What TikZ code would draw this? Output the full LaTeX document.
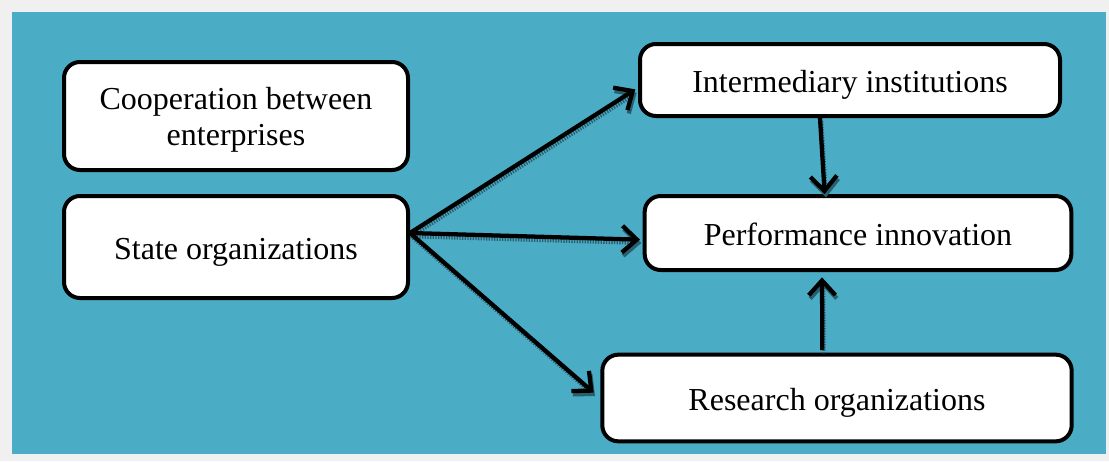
\documentclass[tikz,border=0pt]{standalone}
\usepackage{fontspec}
\setmainfont{Liberation Serif}
\usetikzlibrary{arrows.meta}
\definecolor{bgteal}{HTML}{4BACC6}
\definecolor{framegray}{HTML}{F0F0F0}
\definecolor{arrshade}{HTML}{2A5F6E}

\begin{document}
\begin{tikzpicture}[x=0.75pt, y=-0.75pt,
  box/.style={draw, fill=white, line width=3pt, rounded corners=12pt,
    align=center, font=\fontsize{24}{27}\selectfont, inner sep=0pt},
  lowtext/.style={text height=23pt, text depth=5pt},
  arr/.style={line width=3.2pt, -{Straight Barb[length=11pt, width=20pt, line width=3.2pt]},
    preaction={draw=arrshade, dash pattern=on 1pt off 1pt, line width=3pt,
      transform canvas={shift={(1pt,-2.5pt)}}}}]
  % frame and background
  \fill [framegray] (0, 0) rectangle (1109, 461);
  \fill [bgteal] (12, 12) rectangle (1106, 454);
  \useasboundingbox (0, 0) rectangle (1109, 461);

  \node [box, minimum width=258pt, minimum height=81pt] (coop) at (236, 116) {\rule{0pt}{23pt}Cooperation between\\enterprises};
  \node [box, lowtext, minimum width=258pt, minimum height=76.5pt] (state) at (236, 247) {State organizations};
  \node [box, lowtext, minimum width=315pt, minimum height=54pt] (inter) at (850, 80) {Intermediary institutions};
  \node [box, lowtext, minimum width=320pt, minimum height=55.5pt] (perf) at (858, 233) {Performance innovation};
  \node [box, lowtext, minimum width=352pt, minimum height=65pt] (res) at (837, 398) {Research organizations};

  \coordinate (src) at ([yshift=10.5pt]state.east);
  \draw [arr] (src) -- ([xshift=-2pt, yshift=-7pt]inter.west);
  \draw [arr] (src) -- ([xshift=-2pt, yshift=-5pt]perf.west);
  \draw [arr] (src) -- ([xshift=-5pt, yshift=4pt]res.west);
  \draw [arr] ([xshift=-22.5pt]inter.south) -- ([xshift=-25pt]perf.north);
  \draw [arr] ([xshift=-11pt, yshift=2pt]res.north) -- ([xshift=-27pt, yshift=-4pt]perf.south);
\end{tikzpicture}
\end{document}
